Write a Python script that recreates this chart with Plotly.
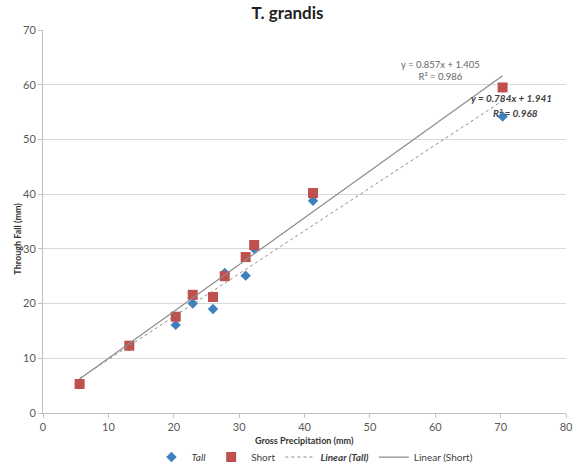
import numpy as np
import plotly.graph_objects as go

# Data
gross_precip = [5.6, 13.2, 20.3, 22.9, 26.0, 27.8, 31.0, 32.3, 41.3, 70.3]
tall_tf = [5.3, 12.3, 16.1, 20.0, 19.0, 25.6, 25.1, 30.0, 38.8, 54.2]
short_tf = [5.3, 12.3, 17.6, 21.6, 21.2, 25.0, 28.5, 30.7, 40.2, 59.5]

tall_fit = {"slope": 0.784, "intercept": 1.941, "r2": 0.968}
short_fit = {"slope": 0.857, "intercept": 1.405, "r2": 0.986}

x_ticks = [0, 10, 20, 30, 40, 50, 60, 70, 80]
y_ticks = [0, 10, 20, 30, 40, 50, 60, 70]

FONT = "Lato, 'Open Sans', sans-serif"

xfit = np.array([min(gross_precip), max(gross_precip)])

fig = go.Figure()
fig.add_trace(go.Scatter(
    x=gross_precip, y=tall_tf, mode="markers", name="<i>Tall</i>",
    marker=dict(symbol="diamond", size=8, color="#3F7FC0")))
fig.add_trace(go.Scatter(
    x=gross_precip, y=short_tf, mode="markers", name="Short",
    marker=dict(symbol="square", size=10, color="#C0504D")))
fig.add_trace(go.Scatter(
    x=xfit, y=tall_fit["slope"] * xfit + tall_fit["intercept"], mode="lines",
    name="<b><i>Linear (Tall)</i></b>",
    line=dict(color="#8C8C8C", width=1, dash="dot")))
fig.add_trace(go.Scatter(
    x=xfit, y=short_fit["slope"] * xfit + short_fit["intercept"], mode="lines",
    name="Linear (Short)",
    line=dict(color="#8C8C8C", width=1.2)))

fig.add_annotation(
    x=60.8, y=62.6, xref="x", yref="y", showarrow=False,
    text=f"y = {short_fit['slope']}x + {short_fit['intercept']}<br>R² = {short_fit['r2']}",
    font=dict(family=FONT, size=9.5, color="#666666"), align="center")
fig.add_annotation(
    x=71.6, y=57.6, xref="x", yref="y", showarrow=False,
    text=f"<b><i>y = {tall_fit['slope']}x + {tall_fit['intercept']}</i></b>",
    font=dict(family=FONT, size=10, color="#404040"))
fig.add_annotation(
    x=72.3, y=54.9, xref="x", yref="y", showarrow=False,
    text=f"<b><i>R² = {tall_fit['r2']}</i></b>",
    font=dict(family=FONT, size=10, color="#404040"))

# Axis titles
fig.add_annotation(
    x=0.5, y=-0.073, xref="paper", yref="paper", showarrow=False,
    xanchor="center", yanchor="middle",
    text="<b>Gross Precipitation (mm)</b>",
    font=dict(family=FONT, size=9, color="#333333"))
fig.add_annotation(
    x=-0.048, y=0.455, xref="paper", yref="paper", showarrow=False,
    xanchor="center", yanchor="middle", textangle=-90,
    text="<b>Through Fall (mm)</b>",
    font=dict(family=FONT, size=9, color="#333333"))

fig.update_layout(
    width=575, height=466,
    margin=dict(l=43, r=9, t=30, b=53, autoexpand=False),
    paper_bgcolor="white", plot_bgcolor="white",
    font=dict(family=FONT, color="#595959"),
    title=dict(text="<b>T. grandis</b>", x=0.5, xanchor="center", y=0.972, yanchor="middle",
               font=dict(family=FONT, size=17, color="#222222")),
    showlegend=True,
    legend=dict(orientation="h", x=0.52, xanchor="center", yref="paper", y=-0.115,
                yanchor="middle",
                font=dict(family=FONT, size=10, color="#404040"),
                itemwidth=30, tracegroupgap=0),
    xaxis=dict(range=[0, 80], tickvals=x_ticks, showgrid=False, zeroline=False,
               showline=True, linecolor="#BFBFBF", ticks="outside", tickcolor="#BFBFBF",
               ticklen=4, tickfont=dict(size=11, color="#595959"), automargin=False),
    yaxis=dict(range=[0, 70], tickvals=y_ticks, showgrid=True, gridcolor="#D9D9D9",
               zeroline=False, showline=True, linecolor="#BFBFBF", ticks="outside",
               tickcolor="#BFBFBF", ticklen=4, tickfont=dict(size=11, color="#595959"),
               automargin=False),
)

fig.write_html("out.html")
